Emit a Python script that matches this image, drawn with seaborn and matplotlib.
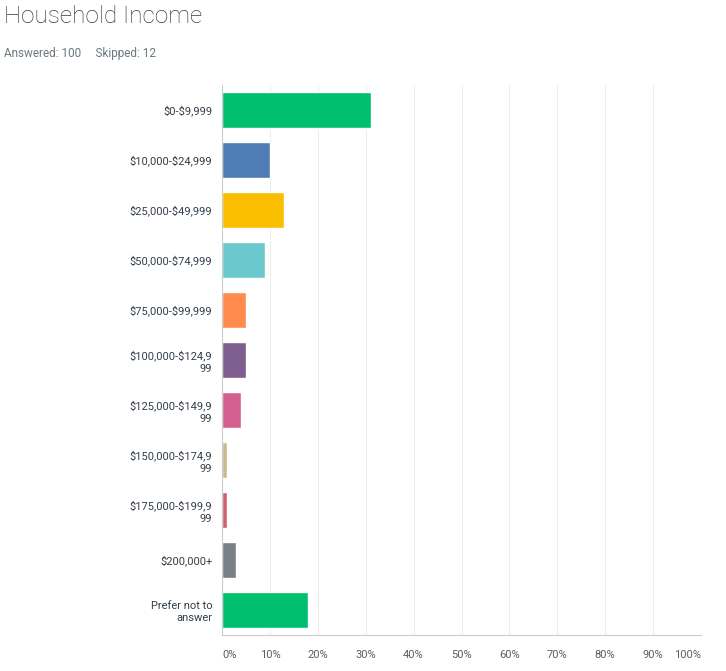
import matplotlib
matplotlib.use("Agg")
import matplotlib.pyplot as plt
import seaborn as sns
import pandas as pd

# survey answers
categories = ["$0-$9,999", "$10,000-$24,999", "$25,000-$49,999", "$50,000-$74,999",
              "$75,000-$99,999", "$100,000-$124,9\n99", "$125,000-$149,9\n99",
              "$150,000-$174,9\n99", "$175,000-$199,9\n99", "$200,000+",
              "Prefer not to\nanswer"]
percent = [31, 10, 13, 9, 5, 5, 4, 1, 1, 3, 18]
bar_colors = ["#00BF6F", "#507CB6", "#F9BE00", "#6BC8CD", "#FF8B4F", "#7F5F90",
              "#D25F90", "#C9B98D", "#D25F6E", "#768086", "#00BF6F"]
x_ticks = [0, 10, 20, 30, 40, 50, 60, 70, 80, 90, 100]
x_labels = [f"{t}%" for t in x_ticks]

df = pd.DataFrame({"answer": categories, "pct": percent})

sns.set_style("white")
plt.rcParams["font.family"] = ["Roboto", "DejaVu Sans"]
plt.rcParams["text.parse_math"] = False  # keep the $ signs literal

fig = plt.figure(figsize=(7.26, 6.71), dpi=100)
ax = fig.add_axes([0.3058, 0.0537, 0.6598, 0.8196])

sns.barplot(data=df, x="pct", y="answer", hue="answer", palette=bar_colors,
            legend=False, width=0.71, saturation=1, ax=ax)

ax.set_xlim(0, 100)
ax.set_ylim(10.5, -0.5)
ax.set_xticks(x_ticks)
ax.set_xticklabels(x_labels)
ax.set_xlabel("")
ax.set_ylabel("")
ax.grid(axis="x", color="#ededed", linewidth=0.8)
ax.set_axisbelow(True)
for s in ["top", "right"]:
    ax.spines[s].set_visible(False)
for s in ["left", "bottom"]:
    ax.spines[s].set_color("#cccccc")
    ax.spines[s].set_linewidth(0.8)

ax.tick_params(axis="both", length=0)
ax.tick_params(axis="y", labelsize=8, labelcolor="#333e48", pad=7)
ax.tick_params(axis="x", labelsize=8, labelcolor="#555f66", pad=11)
for lbl in ax.get_yticklabels():
    lbl.set_ha("right")
    lbl.set_multialignment("right")
    lbl.set_linespacing(1.3)
xl = ax.get_xticklabels()
xl[0].set_ha("left")
xl[-1].set_ha("right")

fig.text(0.006, 0.975, "Household Income", fontsize=17.5, color="#333e48",
         fontweight="light", va="center", ha="left")
fig.text(0.006, 0.921, "Answered: 100     Skipped: 12", fontsize=8.5,
         color="#6b787f", va="center", ha="left")

fig.savefig("out.png", dpi=100)
